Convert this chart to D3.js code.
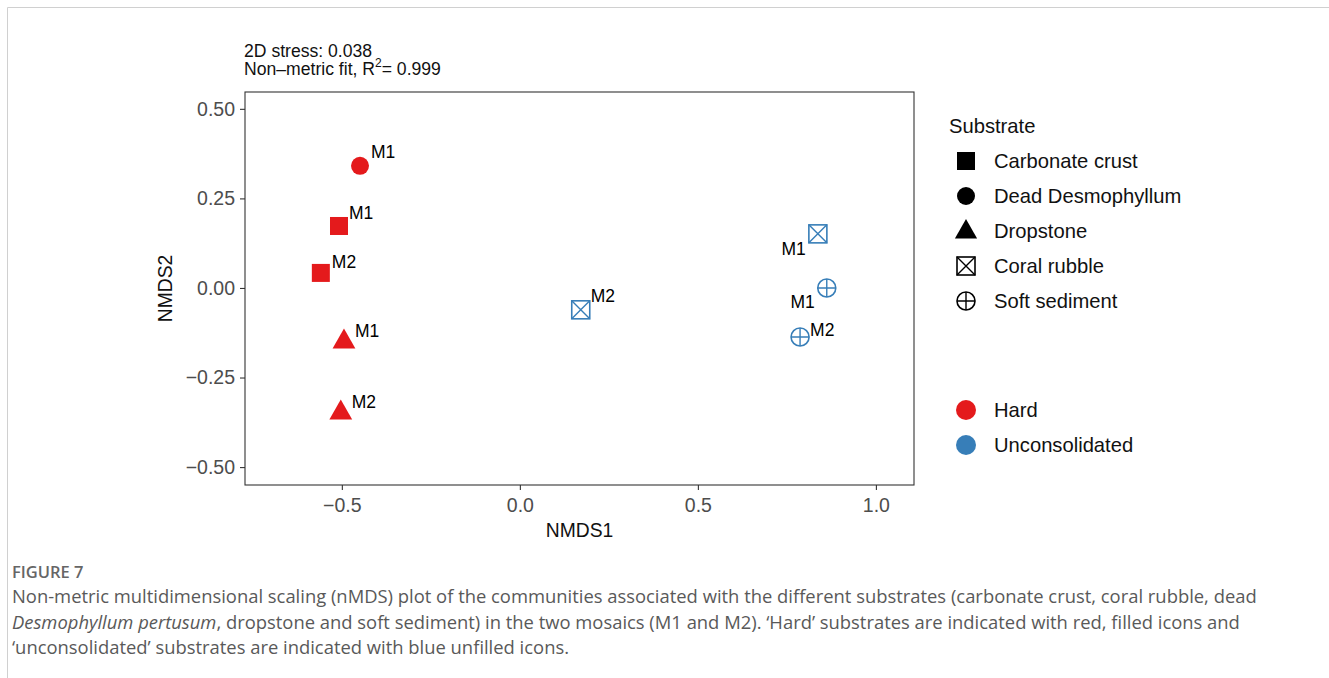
<!DOCTYPE html>
<html>
<head>
<meta charset="utf-8">
<script src="https://cdn.jsdelivr.net/npm/d3@7"></script>
<style>
  body { margin: 0; background: #fff; }
  svg { display: block; font-family: "Liberation Sans", Arial, Helvetica, sans-serif; }
</style>
</head>
<body>
<svg id="chart" width="1329" height="678"></svg>
<script>
// nMDS ordination scores for each substrate sample
const sampleSubstrate = ["Dead Desmophyllum", "Carbonate crust", "Carbonate crust", "Dropstone", "Dropstone",
                         "Coral rubble", "Coral rubble", "Soft sediment", "Soft sediment"];
const sampleMosaic    = ["M1", "M1", "M2", "M1", "M2", "M2", "M1", "M1", "M2"];
const sampleType      = ["Hard", "Hard", "Hard", "Hard", "Hard",
                         "Unconsolidated", "Unconsolidated", "Unconsolidated", "Unconsolidated"];
const nmds1 = [-0.449, -0.508, -0.559, -0.494, -0.503, 0.171, 0.837, 0.862, 0.787];
const nmds2 = [0.341, 0.173, 0.042, -0.148, -0.346, -0.061, 0.151, 0.000, -0.137];

const substrates = ["Carbonate crust", "Dead Desmophyllum", "Dropstone", "Coral rubble", "Soft sediment"];
const substrateTypes = ["Hard", "Unconsolidated"];
const xTicks = [-0.5, 0.0, 0.5, 1.0];
const yTicks = [-0.50, -0.25, 0.00, 0.25, 0.50];

// label placement: offset (px) of each sample's text from its marker; negative dx puts text on the left
const labelDx = [11, 10, 11, 11, 11, 10, -12, -12, 10];
const labelDy = [-14, -13, -11, -10, -10, -14, 15, 14, -7];

const svg = d3.select("#chart");

// page frame
svg.append("path").attr("d", "M7.5,700 V7.5 H1340")
  .attr("fill", "none").attr("stroke", "#d0d0d0").attr("stroke-width", 1);

const panel = { left: 245, top: 92, right: 914, bottom: 485 };

const x = d3.scaleLinear().domain([-0.772, 1.107]).range([panel.left, panel.right]);
const y = d3.scaleLinear().domain([-0.55, 0.547]).range([panel.bottom, panel.top]);

const shapeOf = d3.scaleOrdinal().domain(substrates)
  .range(["square", "circle", "triangle", "squareX", "circlePlus"]);
const colorOf = d3.scaleOrdinal().domain(substrateTypes).range(["#E41A1C", "#377EB8"]);

function drawSymbol(g, shape, color, s) {
  if (shape === "square") {
    g.append("rect").attr("x", -s / 2).attr("y", -s / 2).attr("width", s).attr("height", s).attr("fill", color);
  } else if (shape === "circle") {
    g.append("circle").attr("r", s / 2).attr("fill", color);
  } else if (shape === "triangle") {
    const w = s * 1.2, h = s * 1.05;
    g.append("path").attr("d", `M0,${-h * 0.62} L${w / 2},${h * 0.38} L${-w / 2},${h * 0.38} Z`).attr("fill", color);
  } else if (shape === "squareX") {
    const h = s / 2;
    g.append("rect").attr("x", -h).attr("y", -h).attr("width", s).attr("height", s)
      .attr("fill", "none").attr("stroke", color).attr("stroke-width", 1.6);
    g.append("path").attr("d", `M${-h},${-h} L${h},${h} M${h},${-h} L${-h},${h}`)
      .attr("stroke", color).attr("stroke-width", 1.4);
  } else if (shape === "circlePlus") {
    const r = s / 2;
    g.append("circle").attr("r", r).attr("fill", "none").attr("stroke", color).attr("stroke-width", 1.6);
    g.append("path").attr("d", `M${-r},0 H${r} M0,${-r} V${r}`)
      .attr("stroke", color).attr("stroke-width", 1.4);
  }
}

const minus = s => s.replace("-", "\u2212");

// axes
const xAxis = d3.axisBottom(x).tickValues(xTicks).tickFormat(d => minus(d3.format(".1f")(d)))
  .tickSize(5).tickSizeOuter(0).tickPadding(4);
const yAxis = d3.axisLeft(y).tickValues(yTicks).tickFormat(d => minus(d3.format(".2f")(d)))
  .tickSize(5).tickSizeOuter(0).tickPadding(4);

const gx = svg.append("g").attr("transform", `translate(0,${panel.bottom})`).call(xAxis);
const gy = svg.append("g").attr("transform", `translate(${panel.left},0)`).call(yAxis);
[gx, gy].forEach(g => {
  g.select(".domain").remove();
  g.selectAll(".tick line").attr("stroke", "#333").attr("stroke-width", 1.1);
  g.selectAll(".tick text").attr("fill", "#4d4d4d").attr("font-size", 19.5)
    .attr("font-family", "'Liberation Sans', Arial, sans-serif");
});
gx.selectAll(".tick text").attr("dy", "0.9em");
gy.selectAll(".tick text").attr("dx", "-0.05em");

// panel border
svg.append("rect").attr("x", panel.left).attr("y", panel.top)
  .attr("width", panel.right - panel.left).attr("height", panel.bottom - panel.top)
  .attr("fill", "none").attr("stroke", "#333").attr("stroke-width", 1.1);

// axis titles
svg.append("text").attr("x", (panel.left + panel.right) / 2).attr("y", 537)
  .attr("text-anchor", "middle").attr("font-size", 19.3).attr("fill", "#111").text("NMDS1");
svg.append("text").attr("transform", `translate(172,${(panel.top + panel.bottom) / 2}) rotate(-90)`)
  .attr("text-anchor", "middle").attr("font-size", 19.3).attr("fill", "#111").text("NMDS2");

// stress annotation
svg.append("text").attr("x", 244).attr("y", 57).attr("font-size", 17.6).attr("fill", "#111")
  .text("2D stress: 0.038");
const fit = svg.append("text").attr("x", 244).attr("y", 75).attr("font-size", 17.6).attr("fill", "#111");
fit.append("tspan").text("Non\u2013metric fit, R");
fit.append("tspan").attr("font-size", 12).attr("dy", -8).text("2");
fit.append("tspan").attr("dy", 8).text("= 0.999");

// points
const idx = d3.range(nmds1.length);
const pts = svg.append("g").selectAll("g").data(idx).join("g")
  .attr("transform", i => `translate(${x(nmds1[i])},${y(nmds2[i])})`);
pts.each(function (i) {
  const shape = shapeOf(sampleSubstrate[i]);
  const size = shape === "triangle" ? 19 : 18;
  drawSymbol(d3.select(this), shape, colorOf(sampleType[i]), size);
});

// point labels
svg.append("g").selectAll("text").data(idx).join("text")
  .attr("x", i => x(nmds1[i]) + labelDx[i])
  .attr("y", i => y(nmds2[i]) + labelDy[i])
  .attr("dy", "0.35em")
  .attr("text-anchor", i => labelDx[i] < 0 ? "end" : "start")
  .attr("font-size", 17.5).attr("fill", "#000")
  .text(i => sampleMosaic[i]);

// legend: substrate shapes
const lg = svg.append("g");
lg.append("text").attr("x", 949).attr("y", 133).attr("font-size", 20.2).attr("fill", "#111").text("Substrate");
const shapeRows = lg.selectAll("g.shape").data(substrates).join("g").attr("class", "shape")
  .attr("transform", (d, i) => `translate(966,${161 + i * 35})`);
shapeRows.each(function (d) {
  const shape = shapeOf(d);
  const s = shape === "triangle" ? 18.5 : 18;
  drawSymbol(d3.select(this), shape, "#000", s);
});
shapeRows.append("text").attr("x", 28).attr("dy", "0.36em").attr("font-size", 20.2).attr("fill", "#111").text(d => d);

// legend: substrate type colours
const colorRows = lg.selectAll("g.col").data(substrateTypes).join("g").attr("class", "col")
  .attr("transform", (d, i) => `translate(966,${410 + i * 35})`);
colorRows.append("circle").attr("r", 10).attr("fill", d => colorOf(d));
colorRows.append("text").attr("x", 28).attr("dy", "0.36em").attr("font-size", 20.2).attr("fill", "#111").text(d => d);

// caption
const cap = svg.append("g").attr("font-family", "'Open Sans', 'Noto Sans', sans-serif").attr("fill", "#595959");
cap.append("text").attr("x", 12).attr("y", 578).attr("font-size", 16.5).attr("font-weight", 600)
  .attr("fill", "#666").text("FIGURE 7");
const capLines = [
  [["Non-metric multidimensional scaling (nMDS) plot of the communities associated with the different substrates (carbonate crust, coral rubble, dead", false]],
  [["Desmophyllum pertusum", true], [", dropstone and soft sediment) in the two mosaics (M1 and M2). \u2018Hard\u2019 substrates are indicated with red, filled icons and", false]],
  [["\u2018unconsolidated\u2019 substrates are indicated with blue unfilled icons.", false]]
];
capLines.forEach((parts, li) => {
  const t = cap.append("text").attr("x", 12).attr("y", 603 + li * 25.5).attr("font-size", 18.4);
  parts.forEach(([str, it]) => t.append("tspan").attr("font-style", it ? "italic" : "normal").text(str));
});
</script>
</body>
</html>
